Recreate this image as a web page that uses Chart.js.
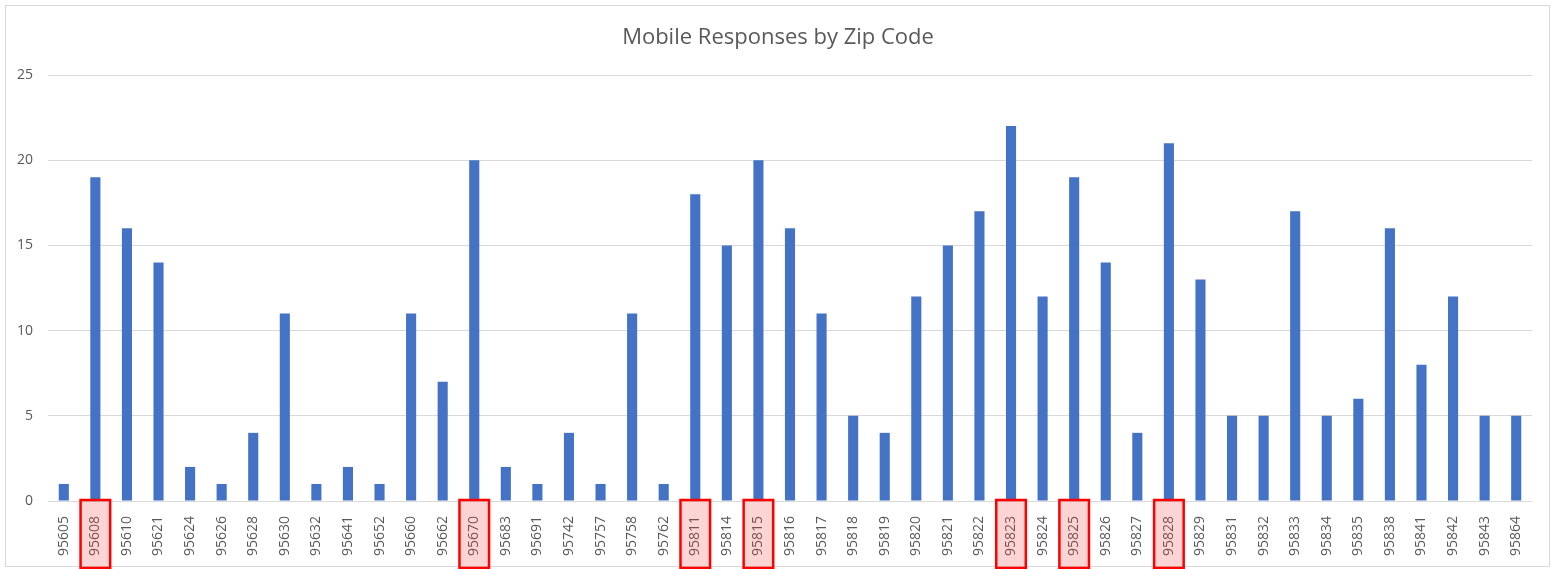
<!DOCTYPE html>
<html>
<head>
<meta charset="utf-8">
<script src="https://cdn.jsdelivr.net/npm/chart.js@4/dist/chart.umd.min.js"></script>
<style>
html,body{margin:0;padding:0;background:#fff;}
#wrap{position:relative;width:1556px;height:569px;}
</style>
</head>
<body>
<div id="wrap"><canvas id="c" width="1556" height="569"></canvas></div>
<script>
const zipCodes = ["95605","95608","95610","95621","95624","95626","95628","95630","95632","95641","95652","95660","95662","95670","95683","95691","95742","95757","95758","95762","95811","95814","95815","95816","95817","95818","95819","95820","95821","95822","95823","95824","95825","95826","95827","95828","95829","95831","95832","95833","95834","95835","95838","95841","95842","95843","95864"];
const responses = [1,19,16,14,2,1,4,11,1,2,1,11,7,20,2,1,4,1,11,1,18,15,20,16,11,5,4,12,15,17,22,12,19,14,4,21,13,5,5,17,5,6,16,8,12,5,5];
const highlighted = ["95608","95670","95811","95815","95823","95825","95828"];
const chartTitle = "Mobile Responses by Zip Code";

const decor = {
  id: 'decor',
  beforeDraw(chart) {
    const ctx = chart.ctx;
    ctx.save();
    ctx.fillStyle = '#fff';
    ctx.fillRect(0, 0, chart.width, chart.height);
    ctx.strokeStyle = '#d9d9d9';
    ctx.lineWidth = 1;
    ctx.strokeRect(5.5, 5.5, 1544, 561);
    ctx.fillStyle = '#595959';
    ctx.font = '22px "Open Sans", sans-serif';
    ctx.textAlign = 'center';
    ctx.textBaseline = 'middle';
    ctx.fillText(chartTitle, 778, 38);
    ctx.restore();
  },
  afterDraw(chart) {
    const ctx = chart.ctx;
    const xs = chart.scales.x;
    const w = (xs.right - xs.left) / zipCodes.length;
    ctx.save();
    highlighted.forEach(z => {
      const i = zipCodes.indexOf(z);
      if (i < 0) return;
      const cx = xs.getPixelForValue(i);
      const x0 = cx - w / 2 + 1, x1 = cx + w / 2 - 1;
      const y0 = chart.scales.y.getPixelForValue(0) - 1, y1 = 568;
      ctx.fillStyle = 'rgba(240,60,60,0.22)';
      ctx.fillRect(x0, y0, x1 - x0, y1 - y0);
      ctx.strokeStyle = '#ff0000';
      ctx.lineWidth = 2.5;
      ctx.strokeRect(x0, y0, x1 - x0, y1 - y0);
    });
    ctx.restore();
  }
};

new Chart(document.getElementById('c'), {
  type: 'bar',
  data: {
    labels: zipCodes,
    datasets: [{
      data: responses,
      backgroundColor: '#4472c4',
      barPercentage: 0.32,
      categoryPercentage: 1
    }]
  },
  options: {
    responsive: false,
    animation: false,
    layout: { padding: { top: 75, right: 24, left: 0, bottom: 0 } },
    plugins: { legend: { display: false }, title: { display: false }, tooltip: { enabled: false } },
    scales: {
      x: {
        grid: { display: false },
        border: { display: false },
        ticks: {
          color: '#595959',
          font: { family: '"Open Sans", sans-serif', size: 14 },
          minRotation: 90, maxRotation: 90,
          autoSkip: false,
          padding: 7
        },
        afterFit(s) { s.height = 68; }
      },
      y: {
        min: 0, max: 25,
        grid: { color: '#d9d9d9', drawTicks: false },
        border: { display: false },
        ticks: {
          stepSize: 5,
          color: '#595959',
          font: { family: '"Open Sans", sans-serif', size: 14 },
          padding: 15
        },
        afterFit(s) { s.width = 48; }
      }
    }
  },
  plugins: [decor]
});
</script>
</body>
</html>
